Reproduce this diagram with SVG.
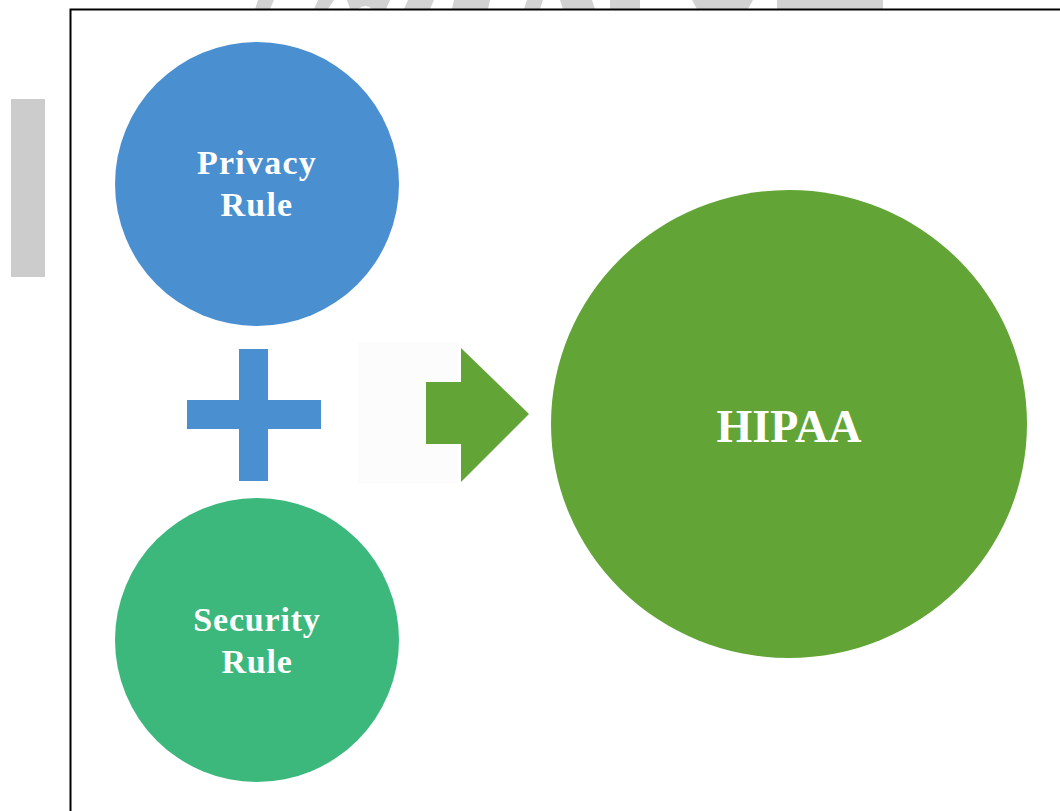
<svg xmlns="http://www.w3.org/2000/svg" width="1060" height="811" viewBox="0 0 1060 811">
<style>
.lbl{font-family:"Liberation Serif","Times New Roman",serif;font-weight:bold;fill:#ffffff;text-anchor:middle}
.wm{fill:#d2d2d2}
</style>
<rect x="0" y="0" width="1060" height="811" fill="#ffffff"/>
<g id="watermark">
<polygon class="wm" points="258,0 274,0 270,9 255,9"/>
<polygon class="wm" points="318,0 334,0 328,9 314,9"/>
<path class="wm" d="M347,0 L390,0 L386,9 L372,9 Q366,3 358,9 L350,9 Z"/>
<polygon class="wm" points="408,0 434,0 430,9 404,9"/>
<polygon class="wm" points="454,0 490,0 488,9 452,9"/>
<polygon class="wm" points="527,0 543,0 540,9 524,9"/>
<polygon class="wm" points="560,0 592,0 595,9 563,9"/>
<rect class="wm" x="610" y="0" width="30" height="9"/>
<polygon class="wm" points="692,0 753,0 748,9 697,9"/>
<rect class="wm" x="777" y="0" width="106" height="9"/>
</g>
<rect id="sidebar" x="11" y="99" width="34" height="178" fill="#cccccc"/>
<g id="frame" fill="none" stroke="#000000" stroke-width="2">
<path d="M70.5,811 L70.5,9.5 L1060,9.5"/>
</g>
<g id="privacy">
<circle cx="257" cy="184" r="142" fill="#4a8fd0"/>
<text class="lbl" x="257" y="174" font-size="34" letter-spacing="1.2">Privacy</text>
<text class="lbl" x="257" y="216" font-size="34" letter-spacing="1.2">Rule</text>
</g>
<g id="security">
<circle cx="257" cy="640" r="142" fill="#3cb87d"/>
<text class="lbl" x="257" y="631" font-size="34" letter-spacing="0.8">Security</text>
<text class="lbl" x="257" y="673" font-size="34" letter-spacing="0.8">Rule</text>
</g>
<g id="hipaa">
<ellipse cx="789" cy="424" rx="238" ry="234" fill="#62a536"/>
<text class="lbl" x="789" y="442" font-size="46">HIPAA</text>
</g>
<g id="connectors">
<g id="plus">
<rect x="239" y="349" width="29" height="132" fill="#4a8fd0"/>
<rect x="187" y="400" width="134" height="29" fill="#4a8fd0"/>
</g>
<g id="arrow">
<rect x="358" y="342" width="100" height="141" fill="#fcfcfc"/>
<polygon points="426,382 461,382 461,348 529,414 461,482 461,444 426,444" fill="#62a536"/>
</g>
</g>
</svg>
